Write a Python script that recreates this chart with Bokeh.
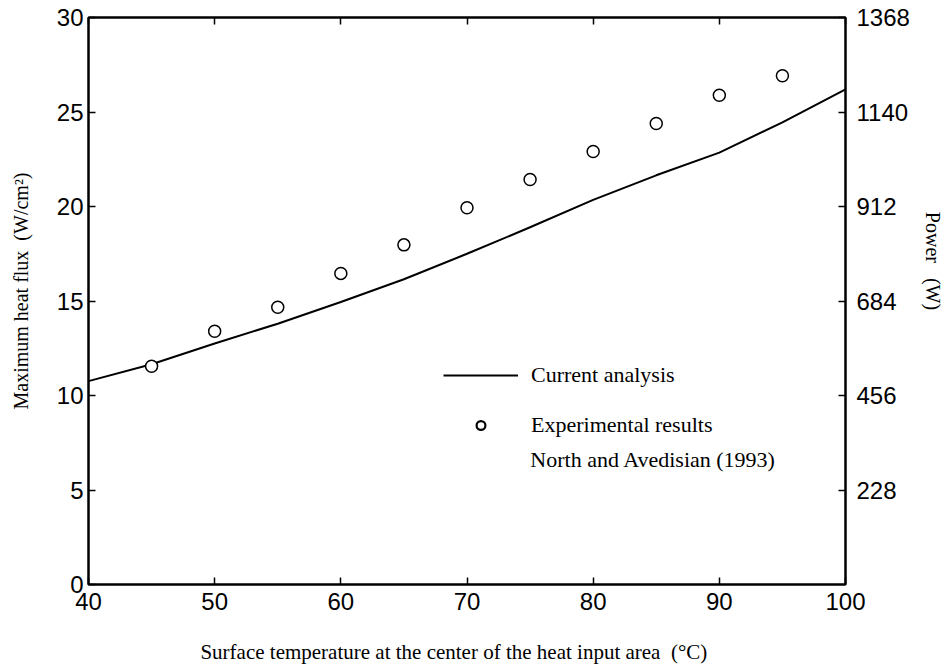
from bokeh.plotting import figure
from bokeh.models import (LinearAxis, Range1d, FixedTicker, Legend, LegendItem, Label)
from bokeh.embed import file_html
from bokeh.resources import INLINE

# ---- data ----
temp_line = [40, 45, 50, 55, 60, 65, 70, 75, 80, 85, 90, 95, 100]
flux_line = [10.76, 11.65, 12.75, 13.8, 14.95, 16.15, 17.5, 18.9, 20.35, 21.65, 22.85, 24.45, 26.2]

temp_exp = [45, 50, 55, 60, 65, 70, 75, 80, 85, 90, 95]
flux_exp = [11.55, 13.4, 14.67, 16.46, 17.97, 19.93, 21.43, 22.91, 24.39, 25.89, 26.92]

x_ticks = [40, 50, 60, 70, 80, 90, 100]
y_ticks = [0, 5, 10, 15, 20, 25, 30]
power_ticks = [228, 456, 684, 912, 1140, 1368]

SANS = "Liberation Sans"
SERIF = "Liberation Serif"
NB = "\u00a0"

p = figure(width=946, height=668, output_backend="svg", toolbar_location=None,
           x_range=Range1d(40, 100), y_range=Range1d(0, 30),
           min_border_left=88, min_border_right=100, min_border_top=17,
           min_border_bottom=84, x_axis_location=None, y_axis_location=None)
p.extra_y_ranges = {"power": Range1d(0, 1368)}
p.grid.visible = False
p.outline_line_color = "black"
p.outline_line_width = 2
p.background_fill_color = "white"
p.border_fill_color = "white"

def style(ax):
    ax.axis_line_color = "black"
    ax.axis_line_width = 2
    ax.major_tick_in = 7
    ax.major_tick_out = 0
    ax.major_tick_line_width = 1.5
    ax.minor_tick_line_color = None
    ax.major_label_text_font = SANS
    ax.major_label_text_font_size = "24px"
    ax.major_label_text_color = "black"
    ax.axis_label_text_font = SERIF
    ax.axis_label_text_font_style = "normal"
    ax.axis_label_text_font_size = "21px"
    ax.axis_label_text_color = "black"

xb = LinearAxis(ticker=FixedTicker(ticks=x_ticks),
                axis_label="Surface temperature at the center of the heat input area"
                           + NB * 2 + "(\u00b0C)" + NB * 5)
style(xb)
xb.major_label_standoff = 8
xb.axis_label_standoff = 27
p.add_layout(xb, "below")

xt = LinearAxis(ticker=FixedTicker(ticks=x_ticks))
style(xt)
xt.major_label_overrides = {t: "" for t in x_ticks}
p.add_layout(xt, "above")

yl = LinearAxis(ticker=FixedTicker(ticks=y_ticks),
                axis_label=NB * 4 + "Maximum heat flux" + NB * 2 + "(W/cm\u00b2)")
style(yl)
yl.axis_label_text_font_size = "20px"
yl.major_label_standoff = 5
yl.axis_label_standoff = 22
p.add_layout(yl, "left")

yr = LinearAxis(y_range_name="power", ticker=FixedTicker(ticks=power_ticks),
                axis_label="Power" + NB * 3 + "(W)" + NB * 16)
style(yr)
yr.axis_label_text_font_size = "20px"
yr.major_label_standoff = 11
yr.axis_label_standoff = 9
p.add_layout(yr, "right")

line_r = p.line(temp_line, flux_line, line_color="black", line_width=2)
p.scatter(temp_exp, flux_exp, marker="circle", size=12, fill_color="white",
          line_color="black", line_width=1.5)

# legend key renderer (smaller bold circle), hidden in the plot itself
key_r = p.scatter(temp_exp, flux_exp, marker="circle", size=7,
                  fill_color="white", line_color="black", line_width=2.2, visible=False)

legend = Legend(items=[LegendItem(label="Current analysis", renderers=[line_r]),
                       LegendItem(label="Experimental results", renderers=[key_r])],
                location=(355, 146), orientation="vertical",
                glyph_width=75, glyph_height=22, label_height=22, spacing=24,
                label_standoff=13, padding=0, margin=0,
                border_line_color=None, background_fill_alpha=0,
                inactive_fill_alpha=0,
                label_text_font=SERIF, label_text_font_size="22px",
                label_text_color="black")
p.add_layout(legend, "center")

p.add_layout(Label(x=75.02, y=6.61, text="North and Avedisian (1993)",
                   text_font=SERIF, text_font_size="22px", text_color="black",
                   text_baseline="middle", text_align="left"))

open("out.html", "w").write(file_html(p, INLINE))
